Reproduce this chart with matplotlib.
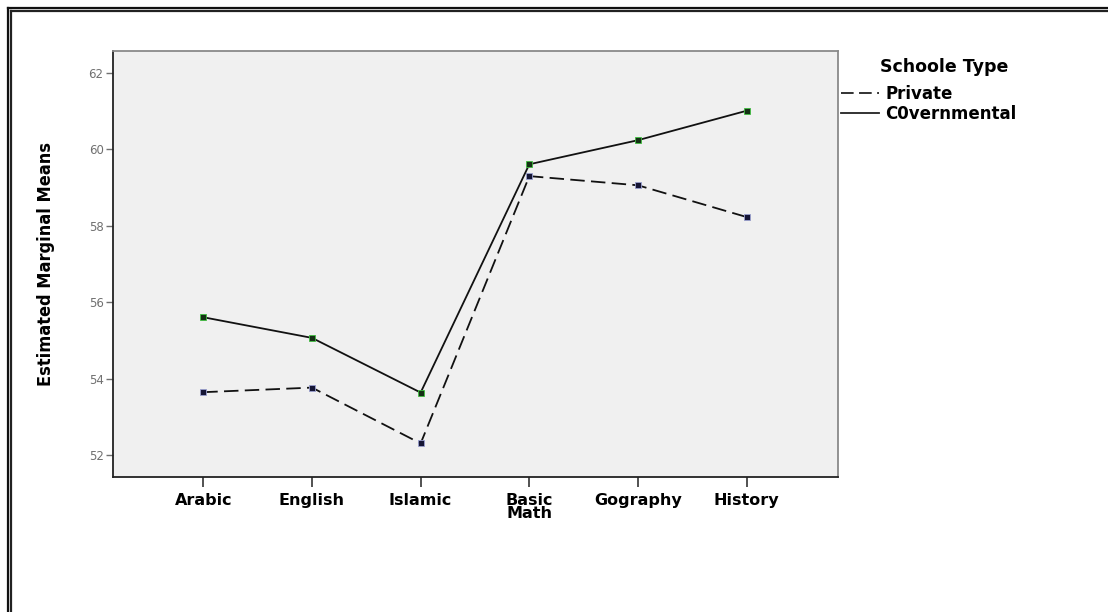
import matplotlib

matplotlib.use("Agg")

import matplotlib.pyplot as plt
from matplotlib.lines import Line2D

subjects = ["Arabic", "English", "Islamic", "Basic\nMath", "Gography", "History"]
private = [53.65, 53.77, 52.31, 59.30, 59.06, 58.23]
governmental = [55.61, 55.07, 53.64, 59.61, 60.24, 61.01]
y_ticks = [52, 54, 56, 58, 60, 62]
series_names = ["Private", "C0vernmental"]

W, H = 1108, 612
fig = plt.figure(figsize=(W / 100, H / 100), dpi=100)
ax = fig.add_axes([113.3 / W, 1 - 476.7 / H, (838.3 - 113.3) / W, (476.7 - 50.7) / H])
ax.set_facecolor("#f0f0f0")

x = list(range(len(subjects)))
dash = (0, (8, 3.5))
ax.plot(x, private, color="#111111", linewidth=1.3, linestyle=dash,
        marker="s", markersize=5, markerfacecolor="#151535",
        markeredgecolor="#9aa0d0", markeredgewidth=0.6)
ax.plot(x, governmental, color="#111111", linewidth=1.3,
        marker="s", markersize=5, markerfacecolor="#153015",
        markeredgecolor="#40c040", markeredgewidth=0.6)

ax.set_xlim(-0.828, 5.843)
ax.set_ylim(51.44, 62.58)
ax.set_xticks(x)
ax.set_xticklabels(subjects, fontsize=11.5, fontweight="bold",
                   family="DejaVu Sans", linespacing=0.8)
ax.set_yticks(y_ticks)
ax.set_yticklabels([str(v) for v in y_ticks], fontsize=8.5, color="#707070")
ax.tick_params(axis="y", length=5, width=1, color="#707070", pad=2)
ax.tick_params(axis="x", length=7, width=1.2, color="#333333", pad=5)

for side in ["left", "bottom"]:
    ax.spines[side].set_color("#222222")
    ax.spines[side].set_linewidth(1.3)
for side in ["top", "right"]:
    ax.spines[side].set_color("#8a8a8a")
    ax.spines[side].set_linewidth(1.3)

ax.set_ylabel("Estimated Marginal Means", fontsize=13, fontweight="bold",
              fontstretch="condensed",
              family=["DejaVu Sans Condensed", "DejaVu Sans"], labelpad=24)

handles = [
    Line2D([], [], color="#222222", linewidth=1.3, linestyle=(0, (7, 3))),
    Line2D([], [], color="#222222", linewidth=1.3),
]
leg = fig.legend(handles, series_names,
                 loc="upper left", bbox_to_anchor=(841 / W, 1 - 85 / H),
                 frameon=False, prop={"weight": "bold", "size": 12},
                 handlelength=2.3, handletextpad=0.35, labelspacing=0.12,
                 borderpad=0, borderaxespad=0)
fig.text(944 / W, 1 - 67 / H, "Schoole Type", ha="center", va="center",
         fontsize=12.5, fontweight="bold")

# double frame along the top and left edges
for off, lw, col in [(8.2, 1.6, "#111111"), (9.6, 1.0, "#bbbbbb"), (11.0, 1.6, "#222222")]:
    fig.add_artist(Line2D([off / W, 1], [1 - off / H, 1 - off / H],
                          transform=fig.transFigure, color=col, linewidth=lw))
    fig.add_artist(Line2D([off / W, off / W], [0, 1 - off / H],
                          transform=fig.transFigure, color=col, linewidth=lw))

fig.savefig("out.png", dpi=100)
plt.close(fig)
